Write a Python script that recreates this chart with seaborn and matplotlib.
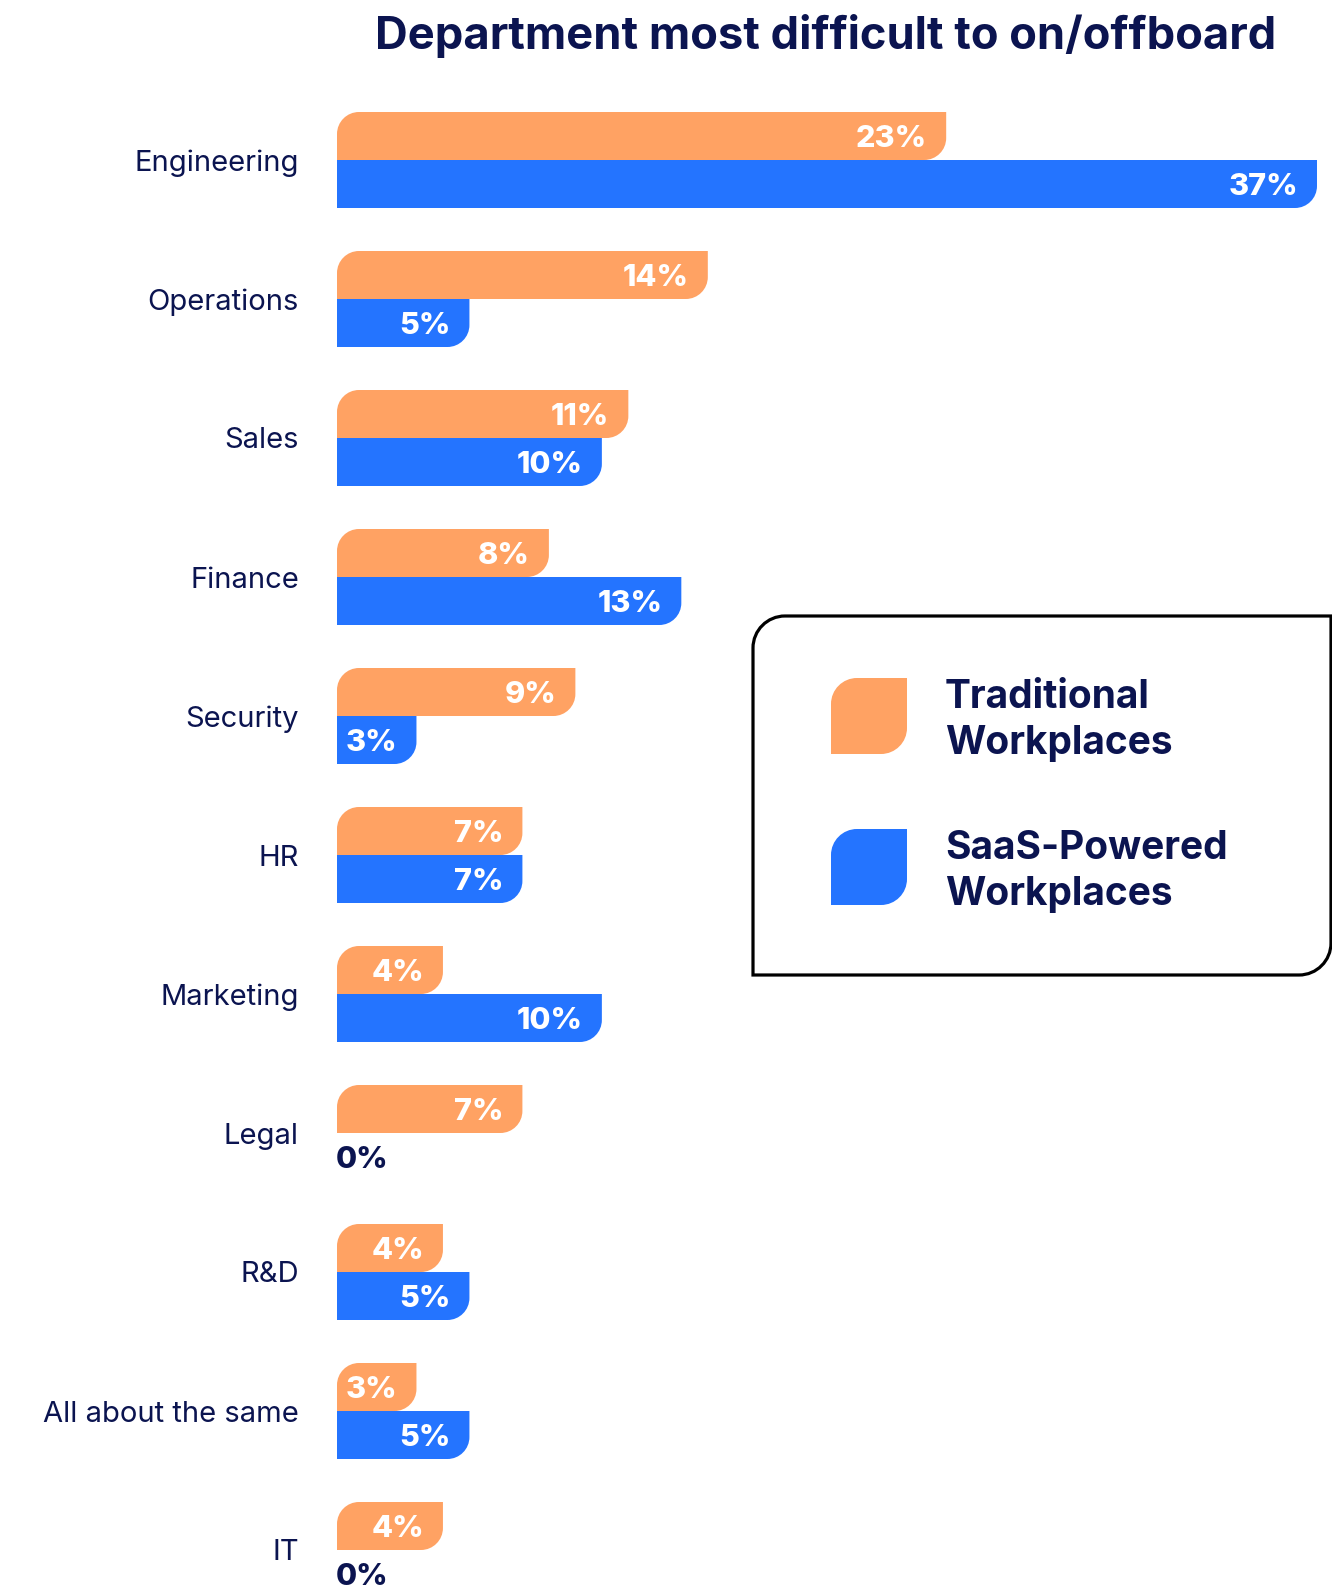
import numpy as np
import pandas as pd
import matplotlib
matplotlib.use("Agg")
import matplotlib.pyplot as plt
import seaborn as sns
from matplotlib.path import Path
from matplotlib.patches import PathPatch
from matplotlib.transforms import Affine2D
from matplotlib.colors import to_rgb

# ---- data -------------------------------------------------------------
departments = ["Engineering", "Operations", "Sales", "Finance", "Security", "HR",
               "Marketing", "Legal", "R&D", "All about the same", "IT"]
traditional = [23, 14, 11, 8, 9, 7, 4, 7, 4, 3, 4]
saas = [37, 5, 10, 13, 3, 7, 10, 0, 5, 5, 0]
series_names = ["Traditional Workplaces", "SaaS-Powered Workplaces"]
legend_labels = [["Traditional", "Workplaces"], ["SaaS-Powered", "Workplaces"]]
title = "Department most difficult to on/offboard"

# ---- style ------------------------------------------------------------
ORANGE = "#FFA263"
BLUE = "#2474FF"
NAVY = "#0B1450"

W, H, DPI = 1332, 1590, 100

sns.set_theme(style="white")
plt.rcParams["font.family"] = ["Inter", "DejaVu Sans"]

df = pd.DataFrame({
    "department": departments * 2,
    "share": traditional + saas,
    "workplace": [series_names[0]] * len(departments) + [series_names[1]] * len(departments),
})

fig = plt.figure(figsize=(W / DPI, H / DPI), dpi=DPI)
fig.patch.set_facecolor("white")

# pixel helpers (origin at top-left of the canvas)
px = Affine2D().scale(1 / W, -1 / H).translate(0, 1) + fig.transFigure

AX_L, AX_R, AX_T, AX_B = 337, 1317, 100, 1590
ROW = 139          # pixel pitch between departments
FIRST = 160        # pixel y of first department centre
BAR_H = 48         # pixel height of one bar
XMAX = 37

ax = fig.add_axes([AX_L / W, 1 - AX_B / H, (AX_R - AX_L) / W, (AX_B - AX_T) / H])
ax.set_facecolor("none")

sns.barplot(data=df, y="department", x="share", hue="workplace", order=departments,
            hue_order=series_names, orient="h", palette=[ORANGE, BLUE],
            width=2 * BAR_H / ROW, saturation=1, errorbar=None, legend=False, ax=ax)

ax.set_xlim(0, XMAX)
ax.set_ylim((AX_B - FIRST) / ROW, (AX_T - FIRST) / ROW)
ax.set_xticks([])
ax.set_xlabel("")
ax.set_ylabel("")
for s in ax.spines.values():
    s.set_visible(False)
ax.tick_params(axis="y", length=0, pad=38 * 0.72, labelsize=21, labelcolor=NAVY)

# ---- rounded bar shapes -------------------------------------------------
K = 0.5523
px_x = (AX_R - AX_L) / XMAX
px_y = ROW
R = 22


def leaf_path(x0, x1, yt, yb, rx, ry, top_left):
    verts, codes = [], []
    if top_left:
        verts += [(x0, yb), (x0, yt + ry),
                  (x0, yt + ry * (1 - K)), (x0 + rx * (1 - K), yt), (x0 + rx, yt)]
        codes += [Path.MOVETO, Path.LINETO, Path.CURVE4, Path.CURVE4, Path.CURVE4]
    else:
        verts += [(x0, yb), (x0, yt)]
        codes += [Path.MOVETO, Path.LINETO]
    verts += [(x1, yt), (x1, yb - ry),
              (x1, yb - ry * (1 - K)), (x1 - rx * (1 - K), yb), (x1 - rx, yb),
              (x0, yb)]
    codes += [Path.LINETO, Path.LINETO, Path.CURVE4, Path.CURVE4, Path.CURVE4,
              Path.CLOSEPOLY]
    return Path(verts, codes)


orange_rgb = np.array(to_rgb(ORANGE))
for bar in list(ax.patches):
    x0, w = bar.get_x(), bar.get_width()
    y0, h = bar.get_y(), bar.get_height()
    fc = bar.get_facecolor()
    bar.set_visible(False)
    if w <= 0:
        continue
    is_trad = np.allclose(np.array(fc[:3]), orange_rgb, atol=0.02)
    rx = min(R / px_x, w / 2)
    ry = R / px_y
    path = leaf_path(x0, x0 + w, y0, y0 + h, rx, ry, top_left=is_trad)
    ax.add_patch(PathPatch(path, facecolor=fc, edgecolor="none", lw=0, zorder=2))

# ---- value labels ---------------------------------------------------------
offset = BAR_H / ROW / 2
for i in range(len(departments)):
    for val, yc in ((traditional[i], i - offset), (saas[i], i + offset)):
        if val > 0:
            ax.annotate(f"{val}%", xy=(val, yc), xytext=(-19, -11),
                        textcoords="offset pixels", ha="right", va="baseline",
                        color="white", fontsize=22, fontweight="heavy", zorder=3)
        else:
            ax.annotate(f"{val}%", xy=(0, yc), xytext=(-1, -11),
                        textcoords="offset pixels", ha="left", va="baseline",
                        color=NAVY, fontsize=22, fontweight="heavy", zorder=3)

# ---- title ----------------------------------------------------------------
fig.text(826, 49, title, transform=px, ha="center", va="baseline",
         fontsize=32.6, fontweight="bold", color=NAVY)

# ---- legend ---------------------------------------------------------------
BL, BT, BR, BB, BRAD = 753, 616, 1331, 975, 32
box = Path([(BL, BB), (BL, BT + BRAD),
            (BL, BT + BRAD * (1 - K)), (BL + BRAD * (1 - K), BT), (BL + BRAD, BT),
            (BR, BT), (BR, BB - BRAD),
            (BR, BB - BRAD * (1 - K)), (BR - BRAD * (1 - K), BB), (BR - BRAD, BB),
            (BL, BB)],
           [Path.MOVETO, Path.LINETO, Path.CURVE4, Path.CURVE4, Path.CURVE4,
            Path.LINETO, Path.LINETO, Path.CURVE4, Path.CURVE4, Path.CURVE4,
            Path.CLOSEPOLY])
fig.add_artist(PathPatch(box, transform=px, facecolor="white", edgecolor="black",
                         lw=2.3, zorder=5))

SQ = 76
SR = 26
for (top, color, lines) in ((678, ORANGE, legend_labels[0]), (829, BLUE, legend_labels[1])):
    l, t, r, b = 831, top, 831 + SQ, top + SQ
    sq = leaf_path(l, r, t, b, SR, SR, top_left=True)
    fig.add_artist(PathPatch(sq, transform=px, facecolor=color, edgecolor="none", zorder=6))
    for k, line in enumerate(lines):
        fig.text(945, top + 30 + 46 * k, line, transform=px, ha="left", va="baseline",
                 fontsize=28, fontweight="bold", color=NAVY, zorder=7)

fig.savefig("out.png", dpi=DPI, facecolor="white")
